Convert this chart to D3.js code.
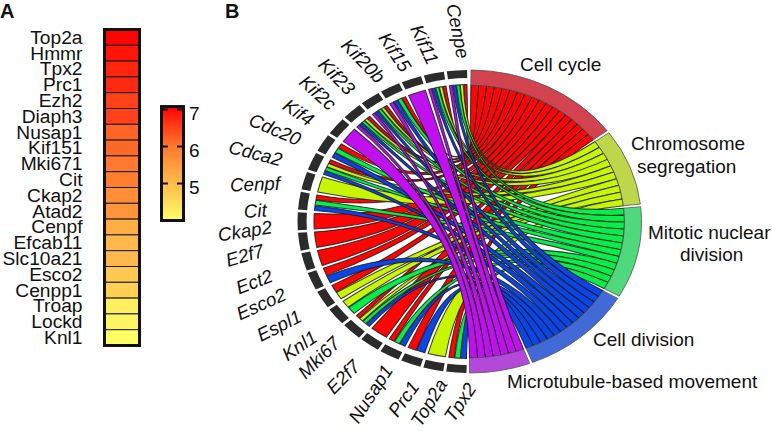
<!DOCTYPE html>
<html><head><meta charset="utf-8">
<script src="https://cdnjs.cloudflare.com/ajax/libs/d3/7.8.5/d3.min.js"></script>
<style>html,body{margin:0;padding:0;background:#fff}svg{display:block}text{font-family:"Liberation Sans",Arial,sans-serif;fill:#111}</style>
</head><body><svg id="c" width="772" height="431"></svg>
<script>
// Panel A data
const heatGenes=["Top2a","Hmmr","Tpx2","Prc1","Ezh2","Diaph3","Nusap1","Kif151","Mki671","Cit","Ckap2","Atad2","Cenpf","Efcab11","Slc10a21","Esco2","Cenpp1","Troap","Lockd","Knl1"];
const heatValues=[7.05,6.9,6.75,6.7,6.5,6.5,6.2,6.15,6.0,5.95,5.7,5.6,5.2,5.05,5.05,4.8,4.7,4.25,4.15,4.0];
const legendTicks=[5,6,7];
// Panel B data
const chordGenes=["Cenpe","Kif11","Kif15","Kif20b","Kif23","Kif2c","Kif4","Cdc20","Cdca2","Cenpf","Cit","Ckap2","E2f7","Ect2","Esco2","Espl1","Knl1","Mki67","E2f7","Nusap1","Prc1","Top2a","Tpx2"];
const terms=["Cell cycle","Chromosome segregation","Mitotic nuclear division","Cell division","Microtubule-based movement"];
// index into terms, for each gene in order
const geneTerms=[[0,1,2,3,4],[0,1,2,3,4],[4],[0,2,3,4],[0,1,2,3,4],[0,1,2,3,4],[4],[0,2,3],[0,1,2,3],[1],[0,2,3],[0],[0],[0],[0,3],[0,1],[1,2],[0,1,2,3],[0],[0,2,3],[0,3],[1],[0,2,3]];
// Styles and label layout, apart from the data
const ribbonColors=["#fb0505","#c8f500","#05ee4a","#0a46e6","#c010f0"];
const ringColors=["#d2434f","#bdd64a","#4fd97c","#4169d8","#b349d9"];
const labelEnds=[[463.3,58.3,79],[433.3,63.3,65],[406.7,70,57],[381.7,80,46],[351.7,91.7,46],[333.3,106.7,42],[311.7,121.7,35],[300,140,23],[281.7,160,14.5],[280,183.3,-2],[266.7,210,-4],[271.7,226.7,-9],[263.3,250,-16],[271.7,275,-21],[285,293.3,-24],[300,315,-27],[315,335,-34],[336.7,340,-45],[356.7,363.3,-45],[388.3,366.7,-57],[415,383.3,-54],[442.5,380.8,-58],[471.7,385,-56]];
const termLabels=[["Cell cycle",520,71],["Chromosome",631,150],["segregation",637,172.5],["Mitotic nuclear",648,239],["division",680,261],["Cell division",593,346],["Microtubule-based movement",507,387.5]];

const svg=d3.select("#c");
const rad=d=>d*Math.PI/180;

// Panel A
const colorScale=d3.scaleLinear().domain([4,5,6,7.08]).range(["#ffff66","#ffbb4c","#ff7a2e","#ff0000"]);
svg.append("text").attr("x",0).attr("y",18.2).attr("font-size",20).attr("font-weight","bold").text("A");
svg.append("text").attr("x",225).attr("y",18.2).attr("font-size",20).attr("font-weight","bold").text("B");
const yHeat=d3.scaleBand().domain(heatGenes).range([29.5,345.5]);
const gA=svg.append("g");
gA.selectAll("rect").data(heatGenes).join("rect")
 .attr("x",104.5).attr("width",35).attr("y",d=>yHeat(d)).attr("height",yHeat.bandwidth())
 .attr("fill",(d,i)=>colorScale(heatValues[i])).attr("stroke","#1a1a1a").attr("stroke-width",1);
gA.append("rect").attr("x",104.5).attr("y",29.5).attr("width",35).attr("height",316).attr("fill","none").attr("stroke","#111").attr("stroke-width",3);
gA.selectAll("text").data(heatGenes).join("text").attr("x",82.5).attr("y",d=>yHeat(d)+yHeat.bandwidth()/2+6.3)
 .attr("text-anchor","end").attr("font-size",19.2).text(d=>d);

// Legend
const yLeg=d3.scaleLinear().domain([5,7]).range([183.5,109.5]);
const grad=svg.append("defs").append("linearGradient").attr("id","lg").attr("x1",0).attr("x2",0).attr("y1",1).attr("y2",0);
d3.range(0,1.0001,0.1).forEach(t=>{const v=4+t*3.08;grad.append("stop").attr("offset",t).attr("stop-color",colorScale(v));});
const legTop=yLeg(7.08),legBot=yLeg(4);
svg.append("rect").attr("x",161.5).attr("y",legTop).attr("width",22).attr("height",legBot-legTop).attr("fill","url(#lg)").attr("stroke","#111").attr("stroke-width",3);
legendTicks.forEach(t=>{
 [[162.5,168],[177,182.5]].forEach(s=>svg.append("line").attr("x1",s[0]).attr("x2",s[1]).attr("y1",yLeg(t)).attr("y2",yLeg(t)).attr("stroke","#111").attr("stroke-width",2));
 svg.append("text").attr("x",189).attr("y",yLeg(t)+10).attr("font-size",19).text(t);
});

// Panel B
const cx=469.5,cy=221.5,rOut=151.5,sx=172/151.5;
const rInner=137,rGeneIn=143.5,rTermIn=136.5;
const chart=svg.append("g").attr("transform",`translate(${cx},${cy}) scale(${sx},1)`);
const geneStart=181,geneEnd=359.2,geneGap=1.0;
const geneScale=d3.scaleBand().domain(d3.range(chordGenes.length)).range([geneEnd,geneStart]).paddingInner(geneGap/7.75).paddingOuter(0);
const counts=terms.map((t,k)=>d3.sum(geneTerms,g=>g.includes(k)?1:0));
const total=d3.sum(counts),termGap=1.0;
const termUnit=(180-termGap*4-0.5)/total;
const arcGen=d3.arc();
let pos=0.5;
const termAngles=counts.map(c=>{const a=pos,b=pos+c*termUnit;pos=b+termGap;return [a,b];});
const ribbons=[];
const used=terms.map(()=>0);
geneTerms.forEach((list,gi)=>{
 const a1=geneScale(gi)+geneScale.bandwidth(),w=geneScale.bandwidth()/list.length;
 list.forEach((k,j)=>{
  const n=used[k]++;
  ribbons.push({k,
   source:{startAngle:rad(a1-w*(j+1)+0.12),endAngle:rad(a1-w*j-0.12),radius:rInner},
   target:{startAngle:rad(termAngles[k][0]+n*termUnit),endAngle:rad(termAngles[k][0]+(n+1)*termUnit),radius:rTermIn}});
 });
});
const ribbonGen=d3.ribbon();
const order=d3.range(ribbons.length).sort((a,b)=>ribbons[a].k-ribbons[b].k||a-b);
const gRib=chart.append("g").style("filter","blur(0.35px)");
gRib.selectAll("path").data(order.map(i=>ribbons[i])).join("path")
 .attr("d",d=>ribbonGen(d)).attr("fill",d=>ribbonColors[d.k])
 .attr("stroke","#151515").attr("stroke-opacity",.8).attr("stroke-width",1.05).attr("vector-effect","non-scaling-stroke");
chart.append("g").selectAll("path").data(termAngles).join("path")
 .attr("d",d=>arcGen({innerRadius:rTermIn,outerRadius:rOut,startAngle:rad(d[0]),endAngle:rad(d[1])}))
 .attr("fill",(d,i)=>ringColors[i]).attr("stroke","#555").attr("stroke-width",.8).attr("vector-effect","non-scaling-stroke");
chart.append("g").selectAll("path").data(chordGenes).join("path")
 .attr("d",(d,i)=>arcGen({innerRadius:rGeneIn,outerRadius:rOut,startAngle:rad(geneScale(i)),endAngle:rad(geneScale(i)+geneScale.bandwidth())}))
 .attr("fill","#2b2b2b");
// gene labels
svg.append("g").selectAll("text").data(chordGenes).join("text")
 .attr("font-size",18.8).attr("font-style","italic").attr("text-anchor","end")
 .attr("transform",(d,i)=>`translate(${labelEnds[i][0]},${labelEnds[i][1]}) rotate(${labelEnds[i][2]}) translate(0,6.5)`)
 .text(d=>d);
// term labels
svg.append("g").selectAll("text").data(termLabels).join("text").attr("x",d=>d[1]).attr("y",d=>d[2]).attr("font-size",19).text(d=>d[0]);
</script></body></html>
